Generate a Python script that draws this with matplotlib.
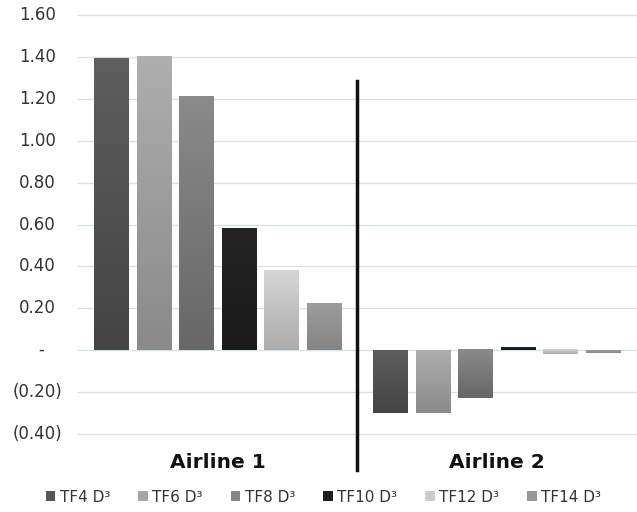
import numpy as np
import matplotlib
matplotlib.use("Agg")
import matplotlib.pyplot as plt
from matplotlib.patches import Patch
from matplotlib.colors import LinearSegmentedColormap
import matplotlib.transforms as mtransforms

categories = ["Airline 1", "Airline 2"]
series = ["TF4 D³", "TF6 D³", "TF8 D³", "TF10 D³", "TF12 D³", "TF14 D³"]
values = {
    "TF4 D³":  [1.39, -0.30],
    "TF6 D³":  [1.40, -0.30],
    "TF8 D³":  [1.21, -0.23],
    "TF10 D³": [0.58, 0.01],
    "TF12 D³": [0.38, -0.02],
    "TF14 D³": [0.22, -0.012],
}
yticks = [1.6, 1.4, 1.2, 1.0, 0.8, 0.6, 0.4, 0.2, 0.0, -0.2, -0.4]

# gradient (light end, dark end) and legend swatch colour for each series
shades = {
    "TF4 D³":  ("#5e5e5e", "#444444", "#555555"),
    "TF6 D³":  ("#aeaeae", "#8a8a8a", "#a6a6a6"),
    "TF8 D³":  ("#8a8a8a", "#676767", "#858585"),
    "TF10 D³": ("#242424", "#1a1a1a", "#1e1e1e"),
    "TF12 D³": ("#d6d6d6", "#ababab", "#cccccc"),
    "TF14 D³": ("#9c9c9c", "#858585", "#999999"),
}

fig = plt.figure(figsize=(6.37, 5.12), dpi=100)
ax = fig.add_axes([78 / 637, 1 - 434 / 512, 558 / 637, (434 - 15) / 512])

pitch = 0.152
width = 0.122
x = np.arange(len(categories))
for i, name in enumerate(series):
    light, dark, _ = shades[name]
    cmap = LinearSegmentedColormap.from_list(name, [dark, light])
    bars = ax.bar(x + (i - 2.5) * pitch, values[name], width=width,
                  color="none", edgecolor="none", zorder=2)
    for b in bars:
        x0, w = b.get_x(), b.get_width()
        y0, h = b.get_y(), b.get_height()
        y_lo, y_hi = min(y0, y0 + h), max(y0, y0 + h)
        # lighter at the top, darker towards the bottom
        grad = np.linspace(0, 1, 64).reshape(-1, 1)
        ax.imshow(grad, cmap=cmap, aspect="auto", origin="lower",
                  extent=[x0, x0 + w, y_lo, y_hi], zorder=2,
                  interpolation="bilinear")

ax.set_xlim(-0.5, 1.5)
ax.set_ylim(-0.4, 1.6)
ax.set_yticks(yticks)
ax.set_yticklabels([])
ax.tick_params(axis="y", length=0)
ax.set_xticks([])
ax.grid(axis="y", color="#d7e1e8", linewidth=1.0, zorder=0)
for gl in ax.get_ygridlines():
    gl.set_clip_on(False)
ax.set_axisbelow(True)
for s in ax.spines.values():
    s.set_visible(False)

# accounting-style tick labels
trans = mtransforms.blended_transform_factory(fig.transFigure, ax.transData)
for v in yticks:
    if abs(v) < 1e-9:
        ax.text(41 / 637, v, "-", transform=trans, ha="center", va="center",
                fontsize=12, color="#333333")
    elif v < 0:
        ax.text(62 / 637, v, f"({abs(v):.2f})", transform=trans, ha="right",
                va="center", fontsize=12, color="#333333")
    else:
        ax.text(56 / 637, v, f"{v:.2f}", transform=trans, ha="right",
                va="center", fontsize=12, color="#333333")

# category labels
ctrans = mtransforms.blended_transform_factory(ax.transData, fig.transFigure)
for i, c in enumerate(categories):
    ax.text(x[i], 1 - 462 / 512, c, transform=ctrans, ha="center", va="center",
            fontsize=14.5, fontweight="bold", color="#111111")

# divider between the two airlines
ax.plot([0.5, 0.5], [1.286, -0.571], color="#111111", linewidth=2.5,
        clip_on=False, zorder=3)

handles = [Patch(facecolor=shades[n][2], edgecolor="none") for n in series]
fig.legend(handles, series, loc="center", bbox_to_anchor=(0.508, 1 - 497 / 512),
           ncol=6, frameon=False, fontsize=11, handlelength=0.6,
           handleheight=0.6, handletextpad=0.3, columnspacing=1.85,
           labelcolor="#333333")

fig.savefig("out.png", dpi=100, facecolor="white")
